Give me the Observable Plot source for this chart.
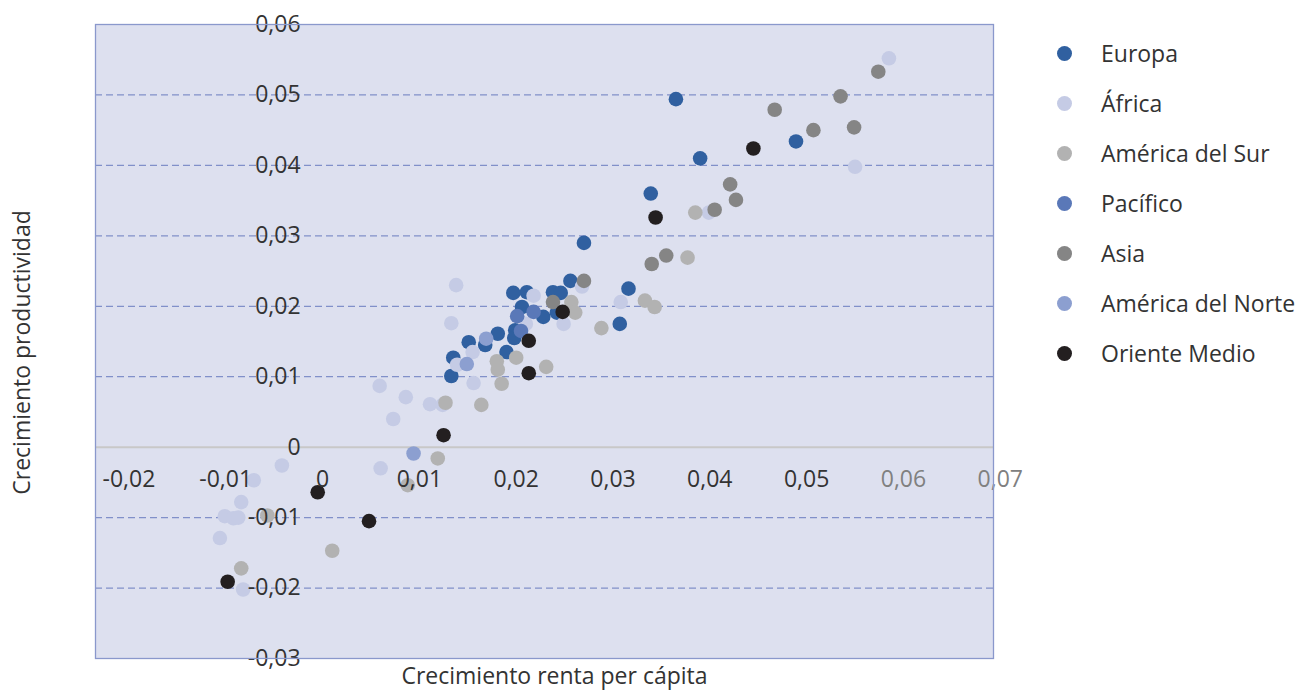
<!DOCTYPE html>
<html><head><meta charset="utf-8">
<script src="https://cdn.jsdelivr.net/npm/d3@7"></script>
<script src="https://cdn.jsdelivr.net/npm/@observablehq/plot@0.6"></script>
<style>
body{margin:0;background:#fff;font-family:"Open Sans",sans-serif;}
#wrap{position:relative;width:1301px;height:693px;}
#legend{position:absolute;left:1057px;top:28px;}
.item{display:flex;align-items:center;height:50px;font-size:23px;color:#333;white-space:nowrap;}
.sw{width:15px;height:15px;border-radius:50%;margin-right:29px;flex:none;}
</style></head><body><div id="wrap"><div id="legend"></div></div>
<script>
const categories = ["Europa", "África", "América del Sur", "Pacífico", "Asia", "América del Norte", "Oriente Medio"];
const colors = ["#3060a0", "#c5cbe5", "#b2b2b2", "#5a78b8", "#858585", "#8c9fd0", "#231f20"];

// [crecimiento renta per cápita, crecimiento productividad]
const europa = [[0.0365,0.0494],[0.0390,0.0410],[0.0339,0.0360],[0.0270,0.0290],[0.0489,0.0434],[0.0316,0.0225],[0.0307,0.0175],[0.0256,0.0236],[0.0238,0.0220],[0.0246,0.0219],[0.0197,0.0219],[0.0211,0.0220],[0.0206,0.0199],[0.0228,0.0185],[0.0242,0.0191],[0.0199,0.0166],[0.0198,0.0155],[0.0181,0.0161],[0.0190,0.0135],[0.0168,0.0145],[0.0151,0.0149],[0.0135,0.0127],[0.0133,0.0101]];
const africa = [[0.0585,0.0552],[0.0550,0.0398],[0.0399,0.0333],[0.0268,0.0228],[0.0218,0.0215],[0.0308,0.0206],[0.0249,0.0175],[0.0210,0.0175],[0.0138,0.0230],[0.0133,0.0176],[0.0155,0.0135],[0.0139,0.0117],[0.0156,0.0091],[0.0059,0.0087],[0.0086,0.0071],[0.0111,0.0061],[0.0124,0.0060],[0.0073,0.0040],[0.0060,-0.0030],[-0.0042,-0.0026],[-0.0071,-0.0047],[-0.0084,-0.0078],[-0.0101,-0.0098],[-0.0092,-0.0101],[-0.0087,-0.0100],[-0.0106,-0.0129],[-0.0082,-0.0202]];
const americaSur = [[0.0385,0.0333],[0.0377,0.0269],[0.0333,0.0208],[0.0343,0.0199],[0.0288,0.0169],[0.0257,0.0206],[0.0261,0.0191],[0.0231,0.0114],[0.0200,0.0127],[0.0180,0.0122],[0.0181,0.0110],[0.0185,0.0090],[0.0164,0.0060],[0.0127,0.0063],[0.0119,-0.0016],[0.0088,-0.0054],[-0.0057,-0.0097],[0.0010,-0.0147],[-0.0084,-0.0172]];
const pacifico = [[0.0201,0.0186],[0.0218,0.0192],[0.0205,0.0165]];
const asia = [[0.0574,0.0533],[0.0535,0.0498],[0.0467,0.0479],[0.0507,0.0450],[0.0549,0.0454],[0.0421,0.0373],[0.0427,0.0351],[0.0405,0.0337],[0.0355,0.0272],[0.0340,0.0260],[0.0270,0.0236],[0.0238,0.0206]];
const americaNorte = [[0.0169,0.0154],[0.0149,0.0118],[0.0094,-0.0009]];
const orienteMedio = [[0.0445,0.0424],[0.0344,0.0326],[0.0248,0.0192],[0.0213,0.0151],[0.0213,0.0105],[0.0125,0.0017],[-0.0005,-0.0064],[0.0048,-0.0105],[-0.0098,-0.0191]];

const xTicks = [-0.02, -0.01, 0, 0.01, 0.02, 0.03, 0.04, 0.05, 0.06, 0.07];
const xTicksLight = [0.06, 0.07];
const yTicks = [-0.03, -0.02, -0.01, 0, 0.01, 0.02, 0.03, 0.04, 0.05, 0.06];
const gridY = [-0.02, -0.01, 0.01, 0.02, 0.03, 0.04, 0.05];
const xTitle = "Crecimiento renta per cápita";
const yTitle = "Crecimiento productividad";

const seriesList = [europa, africa, americaSur, pacifico, asia, americaNorte, orienteMedio];
const data = seriesList.flatMap((s, i) => s.map(([x, y]) => ({region: categories[i], x, y})));
const fmt = d => d === 0 ? "0" : d.toFixed(2).replace(".", ",");

const chart = Plot.plot({
  width: 1301, height: 693,
  marginLeft: 95, marginRight: 308, marginTop: 24, marginBottom: 35,
  x: {domain: [-0.02345, 0.0693], axis: null},
  y: {domain: [-0.03, 0.06], axis: null},
  color: {domain: categories, range: colors},
  style: {fontFamily: '"Open Sans", sans-serif', fontSize: "23px", background: "white", overflow: "visible"},
  marks: [
    Plot.frame({fill: "#dde0ef"}),
    Plot.ruleY(gridY, {stroke: "#8190c9", strokeDasharray: "7,4", strokeWidth: 1.2}),
    Plot.ruleY([0], {stroke: "#c8c8c8", strokeWidth: 2}),
    Plot.dot(data, {x: "x", y: "y", fill: "region", r: 7.3}),
    Plot.text(xTicks.filter(d => !xTicksLight.includes(d)), {x: d => d, y: 0, text: fmt, dy: 32, fill: "#333"}),
    Plot.text(xTicksLight, {x: d => d, y: 0, text: fmt, dy: 32, fill: "#808080"}),
    Plot.text(yTicks, {x: 0, y: d => d, text: fmt, textAnchor: "end", dx: -22, fill: "#333"}),
    Plot.frame({stroke: "#8a98cc", strokeWidth: 1.3}),
    Plot.text([xTitle], {text: d => d, frameAnchor: "bottom", dy: 25, dx: 10, fill: "#333"}),
    Plot.text([yTitle], {text: d => d, frameAnchor: "left", textAnchor: "middle", rotate: -90, dx: -73, dy: 11, fill: "#333"})
  ]
});
document.getElementById("wrap").prepend(chart);

const legend = document.getElementById("legend");
categories.forEach((c, i) => {
  const row = document.createElement("div");
  row.className = "item";
  const sw = document.createElement("span");
  sw.className = "sw";
  sw.style.background = colors[i];
  const t = document.createElement("span");
  t.textContent = c;
  row.append(sw, t);
  legend.append(row);
});
</script>
</body></html>
